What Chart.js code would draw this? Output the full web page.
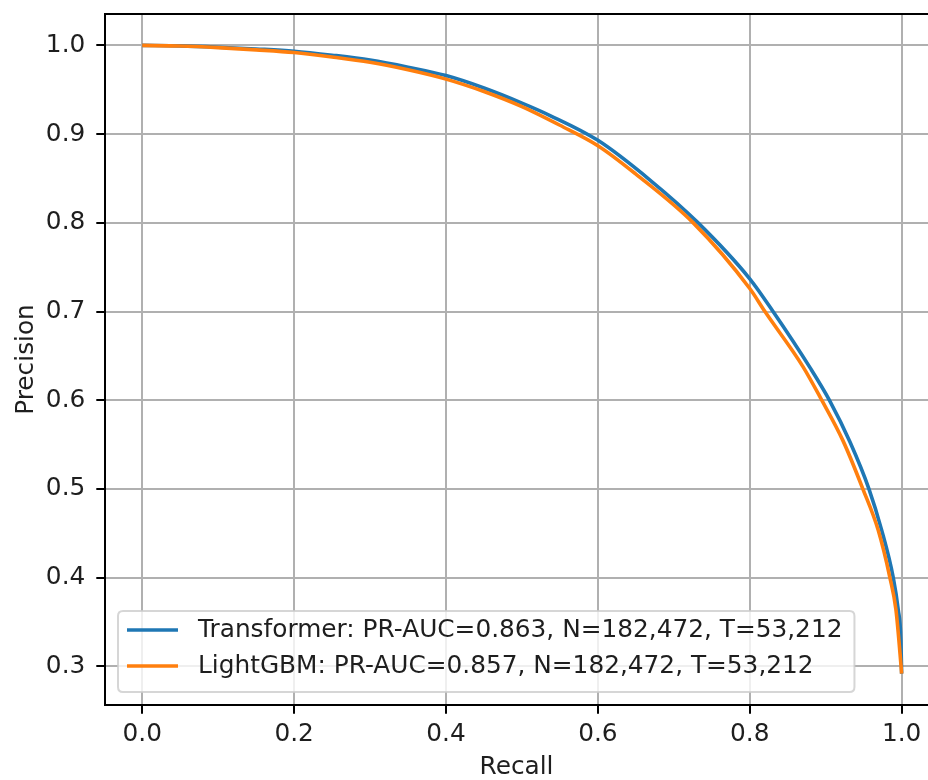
<!DOCTYPE html>
<html><head><meta charset="utf-8">
<script src="https://cdn.jsdelivr.net/npm/chart.js@4/dist/chart.umd.min.js"></script>
<style>
html,body{margin:0;padding:0;overflow:hidden;background:#fff;width:928px;height:780px}
#c{display:block}
</style>
</head><body><canvas id="c" width="928" height="780"></canvas>
<script>
// ---- data ----
const transformerRecall    = [0, 0.05, 0.1, 0.15, 0.2, 0.25, 0.3, 0.35, 0.4, 0.45, 0.5, 0.537, 0.6, 0.669, 0.732, 0.8, 0.83, 0.88, 0.905, 0.932, 0.957, 0.9736, 0.989, 0.9955, 0.999, 1.0];
const transformerPrecision = [1.0, 0.9995, 0.998, 0.996, 0.9935, 0.989, 0.9835, 0.9755, 0.966, 0.952, 0.935, 0.921, 0.893, 0.848, 0.800, 0.737, 0.701, 0.636, 0.600, 0.553, 0.500, 0.454, 0.400, 0.364, 0.330, 0.292];
const lightgbmRecall       = [0, 0.05, 0.1, 0.15, 0.2, 0.25, 0.3, 0.35, 0.4, 0.45, 0.5, 0.55, 0.6, 0.65, 0.7256, 0.8, 0.82, 0.87, 0.893, 0.923, 0.949, 0.969, 0.9846, 0.9925, 0.999, 1.0];
const lightgbmPrecision    = [1.0, 0.9993, 0.9975, 0.995, 0.992, 0.987, 0.981, 0.9725, 0.962, 0.948, 0.931, 0.910, 0.887, 0.855, 0.800, 0.726, 0.700, 0.638, 0.603, 0.554, 0.500, 0.454, 0.400, 0.364, 0.303, 0.292];
const seriesLabels = ['Transformer: PR-AUC=0.863, N=182,472, T=53,212', 'LightGBM: PR-AUC=0.857, N=182,472, T=53,212'];
const seriesColors = ['#1f77b4', '#ff7f0e'];
const xTicks = [0.0, 0.2, 0.4, 0.6, 0.8, 1.0];
const yTicks = [0.3, 0.4, 0.5, 0.6, 0.7, 0.8, 0.9, 1.0];
const xTitle = 'Recall';
const yTitle = 'Precision';

const FONT = 'DejaVu Sans';
const FS = 24.8;
const TXT = '#1e1e1e';
const GRID = '#b0b0b0';

const toXY = (xs, ys) => xs.map((x, i) => ({x: x, y: ys[i]}));

function drawLegend(chart) {
  const ctx = chart.ctx, a = chart.chartArea;
  ctx.save();
  ctx.font = FS + 'px "' + FONT + '"';
  const ds = chart.data.datasets.slice().sort((p, q) => p.legendIndex - q.legendIndex);
  const textW = Math.max(...ds.map(d => ctx.measureText(d.label).width));
  const boxX = a.left + 13, boxB = a.bottom - 13, boxH = 81;
  const boxY = boxB - boxH;
  const hx0 = boxX + 9, hx1 = boxX + 60, tx = boxX + 80;
  const boxW = (tx - boxX) + textW + 12;
  const r = 5;
  ctx.beginPath();
  ctx.moveTo(boxX + r, boxY);
  ctx.lineTo(boxX + boxW - r, boxY);
  ctx.quadraticCurveTo(boxX + boxW, boxY, boxX + boxW, boxY + r);
  ctx.lineTo(boxX + boxW, boxY + boxH - r);
  ctx.quadraticCurveTo(boxX + boxW, boxY + boxH, boxX + boxW - r, boxY + boxH);
  ctx.lineTo(boxX + r, boxY + boxH);
  ctx.quadraticCurveTo(boxX, boxY + boxH, boxX, boxY + boxH - r);
  ctx.lineTo(boxX, boxY + r);
  ctx.quadraticCurveTo(boxX, boxY, boxX + r, boxY);
  ctx.closePath();
  ctx.fillStyle = 'rgba(255,255,255,0.8)';
  ctx.fill();
  ctx.strokeStyle = 'rgba(204,204,204,0.8)';
  ctx.lineWidth = 2;
  ctx.stroke();
  ds.forEach((d, i) => {
    const cy = boxY + 19 + i * 36;
    ctx.strokeStyle = d.borderColor;
    ctx.lineWidth = 3.6;
    ctx.lineCap = 'butt';
    ctx.beginPath(); ctx.moveTo(hx0, cy); ctx.lineTo(hx1, cy); ctx.stroke();
    ctx.fillStyle = TXT;
    ctx.textAlign = 'left';
    ctx.textBaseline = 'middle';
    ctx.fillText(d.label, tx, cy + 1);
  });
  ctx.restore();
}

const framePlugin = {
  id: 'frameAndLegend',
  afterDatasetsDraw(chart) {
    drawLegend(chart);
  },
  afterDraw(chart) {
    const ctx = chart.ctx, a = chart.chartArea, ys = chart.scales.y, xs = chart.scales.x;
    ctx.save();
    // clean the right strip of the plot beyond the last x tick (the right spine lies outside the picture)
    const sx = Math.round(xs.getPixelForValue(xTicks[xTicks.length - 1])) + 8;
    ctx.fillStyle = '#fff';
    ctx.fillRect(sx, a.top + 1, chart.width - sx, a.bottom - a.top - 2);
    ctx.strokeStyle = GRID;
    ctx.lineWidth = 2;
    ys.ticks.forEach(t => {
      const y = Math.round(ys.getPixelForValue(t.value));
      ctx.beginPath(); ctx.moveTo(sx - 1, y); ctx.lineTo(chart.width + 2, y); ctx.stroke();
    });
    // spines: top, left, bottom
    ctx.strokeStyle = '#000';
    ctx.lineWidth = 2;
    ctx.beginPath();
    ctx.moveTo(chart.width + 4, a.top);
    ctx.lineTo(a.left, a.top);
    ctx.lineTo(a.left, a.bottom);
    ctx.lineTo(chart.width + 4, a.bottom);
    ctx.stroke();
    ctx.restore();
  }
};

Chart.defaults.font.family = FONT;
Chart.defaults.font.size = FS;
Chart.defaults.color = TXT;

new Chart(document.getElementById('c'), {
  type: 'line',
  data: {
    datasets: [
      {label: seriesLabels[0], legendIndex: 0, order: 1, data: toXY(transformerRecall, transformerPrecision),
       borderColor: seriesColors[0], backgroundColor: seriesColors[0], borderWidth: 3.6, pointRadius: 0,
       cubicInterpolationMode: 'monotone', borderJoinStyle: 'round', borderCapStyle: 'butt', fill: false},
      {label: seriesLabels[1], legendIndex: 1, order: 0, data: toXY(lightgbmRecall, lightgbmPrecision),
       borderColor: seriesColors[1], backgroundColor: seriesColors[1], borderWidth: 3.6, pointRadius: 0,
       cubicInterpolationMode: 'monotone', borderJoinStyle: 'round', borderCapStyle: 'butt', fill: false}
    ]
  },
  options: {
    responsive: false,
    animation: false,
    devicePixelRatio: 1,
    layout: {padding: {left: 0, top: 14, right: 0, bottom: 0}},
    plugins: {legend: {display: false}, tooltip: {enabled: false}},
    scales: {
      x: {
        type: 'linear', min: -0.049, max: 1.0347,
        afterBuildTicks: s => { s.ticks = xTicks.map(v => ({value: v})); },
        afterFit: s => { s.height = 75; s.paddingLeft = 0; s.paddingRight = 0; },
        ticks: {callback: v => Number(v).toFixed(1), padding: 6, color: TXT, maxRotation: 0, autoSkip: false},
        grid: {color: GRID, lineWidth: 2, tickLength: 8.7, tickColor: '#000', tickWidth: 2},
        border: {display: false},
        title: {display: true, text: xTitle, color: TXT, padding: {top: 0, bottom: -2}}
      },
      y: {
        type: 'linear', min: 0.2566, max: 1.0354,
        afterBuildTicks: s => { s.ticks = yTicks.map(v => ({value: v})); },
        afterFit: s => { s.width = 105; s.paddingTop = 0; s.paddingBottom = 0; },
        ticks: {callback: v => Number(v).toFixed(1), padding: 11, color: TXT, autoSkip: false},
        grid: {color: GRID, lineWidth: 2, tickLength: 8.7, tickColor: '#000', tickWidth: 2},
        border: {display: false},
        title: {display: true, text: yTitle, color: TXT, padding: {top: 11.5, bottom: 0}}
      }
    }
  },
  plugins: [framePlugin]
});
</script>
</body></html>
